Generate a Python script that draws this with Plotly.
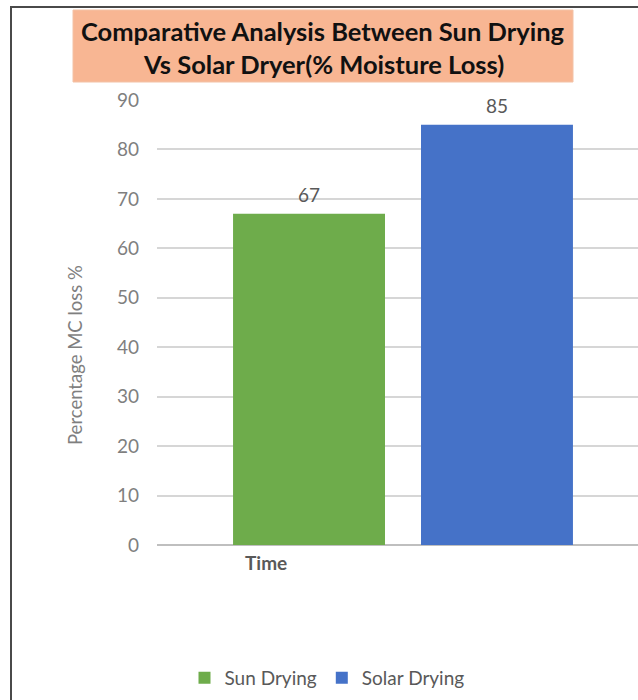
import plotly.graph_objects as go

# Moisture loss (%) after drying, by method
categories = ["Time"]
methods = ["Sun Drying", "Solar Drying"]
sun_drying = [67]
solar_drying = [85]
y_ticks = [0, 10, 20, 30, 40, 50, 60, 70, 80, 90]
title_lines = ["Comparative Analysis Between Sun Drying", "Vs Solar Dryer(% Moisture Loss)"]

W, H = 638, 700
FONT = "Lato"
GRAY = "#7f7f7f"
DARK = "#595959"
colors = ["#6eac4b", "#4572c8"]

fig = go.Figure()
for name, vals, col in zip(methods, [sun_drying, solar_drying], colors):
    fig.add_trace(go.Bar(
        x=categories, y=vals, name=name,
        marker=dict(color=col, line=dict(width=0)),
        hoverinfo="skip",
    ))

# value labels above each bar
for i, (vals, shift) in enumerate(zip([sun_drying, solar_drying], [-94, 94])):
    for c, v in zip(categories, vals):
        fig.add_annotation(
            x=c, y=v, xref="x", yref="y", text=str(v), showarrow=False,
            xshift=shift, yshift=19, yanchor="middle",
            font=dict(family=FONT, size=19, color=DARK),
        )

# chart title box
fig.add_shape(type="rect", xref="paper", yref="paper",
              x0=73 / W, x1=573 / W, y0=1 - 82 / H, y1=1 - 10 / H,
              fillcolor="#f8b693", line=dict(color="#f3c2a6", width=1), layer="below")
for line, ypx in zip(title_lines, [31, 64]):
    fig.add_annotation(x=323 / W, y=1 - ypx / H, xref="paper", yref="paper",
                       text=f"<b>{line}</b>", showarrow=False,
                       xanchor="center", yanchor="middle",
                       font=dict(family=FONT, size=25.5, color="#111111"))

# outer chart border
fig.add_shape(type="rect", xref="paper", yref="paper",
              x0=11 / W, x1=1.1, y0=-0.1, y1=1 - 7 / H,
              line=dict(color="#4a4a4a", width=2), fillcolor="rgba(0,0,0,0)")

# axis titles
fig.add_annotation(x=75 / W, y=1 - 355 / H, xref="paper", yref="paper",
                   text="Percentage MC loss %", textangle=-90, showarrow=False,
                   xanchor="center", yanchor="middle",
                   font=dict(family=FONT, size=18.5, color=GRAY))
fig.add_annotation(x=266 / W, y=1 - 562 / H, xref="paper", yref="paper",
                   text="<b>Time</b>", showarrow=False,
                   xanchor="center", yanchor="middle",
                   font=dict(family=FONT, size=19, color=DARK))

fig.update_layout(
    width=W, height=H,
    margin=dict(l=0, r=0, t=0, b=0, autoexpand=False),
    paper_bgcolor="white", plot_bgcolor="white",
    barmode="group", bargap=0.236, bargroupgap=0.1915,
    showlegend=True,
    legend=dict(orientation="h", x=327 / W, xanchor="center",
                y=22 / H, yanchor="middle",
                font=dict(family=FONT, size=19, color=DARK),
                itemwidth=30, traceorder="normal"),
    xaxis=dict(domain=[157 / W, 1], range=[-0.5, -0.5 + 481 / 492],
               showticklabels=False, showgrid=False, zeroline=False,
               showline=False, fixedrange=True, automargin=False),
    yaxis=dict(domain=[1 - 545 / H, 1 - 100 / H], range=[0, 90],
               tickvals=y_ticks, ticks="", ticklabelstandoff=17,
               tickfont=dict(family=FONT, size=19, color=GRAY),
               showgrid=True, gridcolor="#d6d6d6", gridwidth=1.5,
               zeroline=True, zerolinecolor="#bfbfbf", zerolinewidth=1.5,
               showline=False, automargin=False),
)

fig.write_html("out.html")
